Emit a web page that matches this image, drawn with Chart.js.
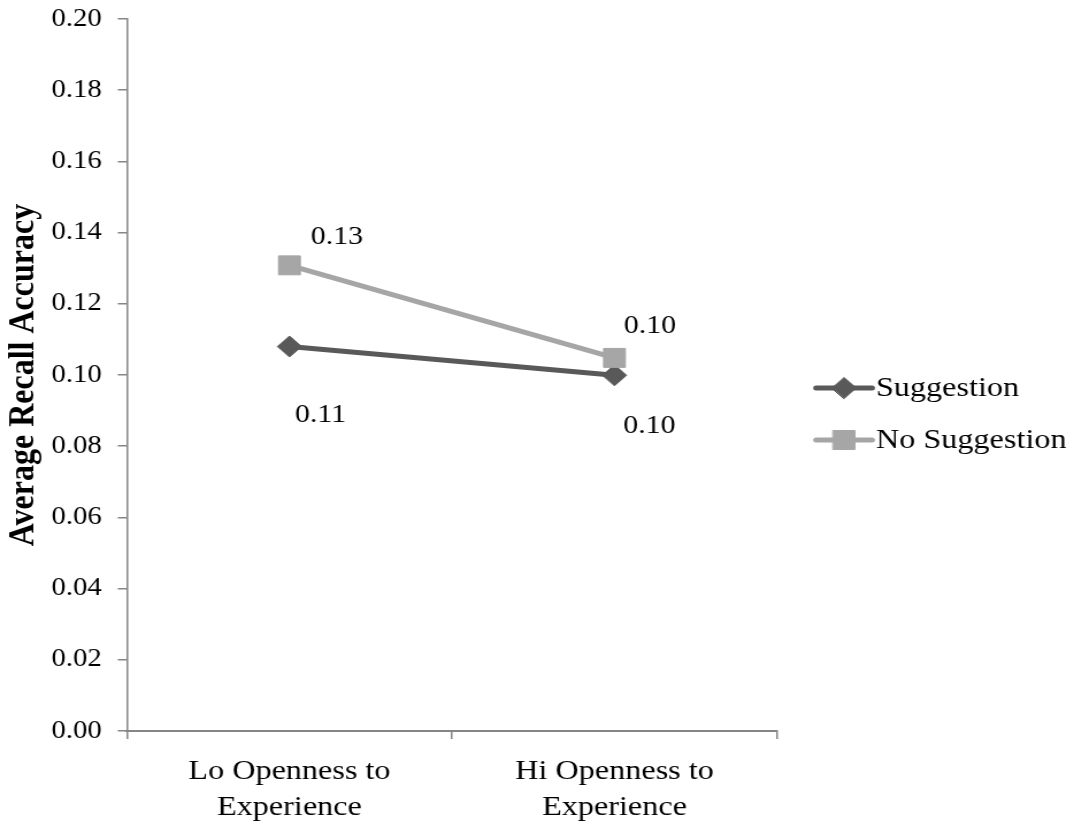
<!DOCTYPE html>
<html>
<head>
<meta charset="utf-8">
<script src="https://cdn.jsdelivr.net/npm/chart.js@4.4.1/dist/chart.umd.min.js"></script>
<style>
  html, body { margin: 0; padding: 0; background: #ffffff; overflow: hidden; }
  /* the plot is laid out on a narrower canvas and widened, giving the wide serif lettering */
  #wrap { position: absolute; left: 0; top: 0; width: 934px; height: 826px;
          transform-origin: 0 0; transform: scaleX(1.1499); }
</style>
</head>
<body>
<div id="wrap"><canvas id="chart" width="934" height="826"></canvas></div>
<script>
// ---- data ----
const categories = [['Lo Openness to', 'Experience'], ['Hi Openness to', 'Experience']];
const seriesNames = ['Suggestion', 'No Suggestion'];
const suggestion = [0.108, 0.0999];
const noSuggestion = [0.1308, 0.1048];
const yAxisTitle = 'Average Recall Accuracy';
const yMin = 0, yMax = 0.20, yStep = 0.02;

// ---- style ----
const SERIF = "'Liberation Serif', 'Times New Roman', serif";
const DARK = '#595959';
const LIGHT = '#a6a6a6';
const AXIS = '#868686';
// value label offsets from each point, per dataset / per category (px)
const labelOffsets = [
  [{ dx: 27, dy: 69 }, { dx: 30.4, dy: 50.5 }],
  [{ dx: 41.3, dy: -28.5 }, { dx: 30.9, dy: -32 }]
];

const valueLabels = {
  id: 'valueLabels',
  afterDatasetsDraw(chart) {
    const ctx = chart.ctx;
    ctx.save();
    ctx.font = '26px ' + SERIF;
    ctx.fillStyle = '#000';
    ctx.textAlign = 'center';
    ctx.textBaseline = 'middle';
    chart.data.datasets.forEach((ds, i) => {
      const meta = chart.getDatasetMeta(i);
      meta.data.forEach((pt, j) => {
        const off = labelOffsets[i][j];
        ctx.fillText(ds.data[j].toFixed(2), pt.x + off.dx, pt.y + off.dy);
      });
    });
    ctx.restore();
  }
};

// legend on the right: line sample with the series marker, then the name
const sideLegend = {
  id: 'sideLegend',
  afterDraw(chart) {
    const ctx = chart.ctx;
    const x0 = chart.chartArea.right + 34, x1 = x0 + 48.7, tx = x1 + 3.4;
    const rows = [388, 440];
    ctx.save();
    chart.data.datasets.forEach((ds, i) => {
      const y = rows[i];
      ctx.strokeStyle = ds.borderColor;
      ctx.lineWidth = ds.borderWidth;
      ctx.lineCap = 'round';
      ctx.beginPath();
      ctx.moveTo(x0, y);
      ctx.lineTo(x1, y);
      ctx.stroke();
      ctx.fillStyle = ds.pointBackgroundColor;
      ctx.strokeStyle = ds.pointBorderColor;
      ctx.lineWidth = 1;
      Chart.helpers.drawPoint(ctx, { pointStyle: ds.pointStyle, radius: ds.pointRadius, rotation: 0, borderWidth: 1 }, (x0 + x1) / 2, y);
      ctx.fillStyle = '#000';
      ctx.font = '28px ' + SERIF;
      ctx.textAlign = 'left';
      ctx.textBaseline = 'middle';
      ctx.fillText(ds.label, tx, y + 1);
    });
    ctx.restore();
  }
};

new Chart(document.getElementById('chart'), {
  type: 'line',
  data: {
    labels: categories,
    datasets: [
      {
        label: seriesNames[0], data: suggestion,
        borderColor: DARK, borderWidth: 5, fill: false,
        pointStyle: 'rectRot', pointRadius: 10.5,
        pointBackgroundColor: DARK, pointBorderColor: DARK, pointBorderWidth: 1,
        order: 1
      },
      {
        label: seriesNames[1], data: noSuggestion,
        borderColor: LIGHT, borderWidth: 5, fill: false,
        pointStyle: 'rect', pointRadius: 13.4,
        pointBackgroundColor: LIGHT, pointBorderColor: LIGHT, pointBorderWidth: 1,
        order: 0
      }
    ]
  },
  options: {
    responsive: false,
    animation: false,
    devicePixelRatio: 1,
    layout: { padding: { top: 19, right: 258.3, bottom: 0, left: 0 } },
    plugins: { legend: { display: false }, tooltip: { enabled: false } },
    scales: {
      x: {
        type: 'category',
        offset: true,
        grid: { display: true, offset: true, drawOnChartArea: false, drawTicks: true, tickLength: 8, color: AXIS, lineWidth: 1.5 },
        border: { display: true, color: AXIS, width: 2 },
        ticks: { color: '#000', font: { family: SERIF, size: 28, lineHeight: 1.29 }, padding: 14.5, maxRotation: 0, autoSkip: false },
        afterFit(scale) { scale.height = 95; }
      },
      y: {
        min: yMin, max: yMax,
        grid: { display: true, drawOnChartArea: false, drawTicks: true, tickLength: 8, color: AXIS, lineWidth: 1.5 },
        border: { display: true, color: AXIS, width: 1.5 },
        ticks: {
          stepSize: yStep, color: '#000', padding: 14,
          font: { family: SERIF, size: 25 },
          callback: (v) => Number(v).toFixed(2)
        },
        title: { display: true, text: yAxisTitle, color: '#000', font: { family: SERIF, size: 32, weight: 'bold' }, padding: { top: 2, bottom: 0 } },
        afterFit(scale) { scale.width = 110.4; scale.paddingTop = 0; scale.paddingBottom = 0; }
      }
    }
  },
  plugins: [valueLabels, sideLegend]
});
</script>
</body>
</html>
